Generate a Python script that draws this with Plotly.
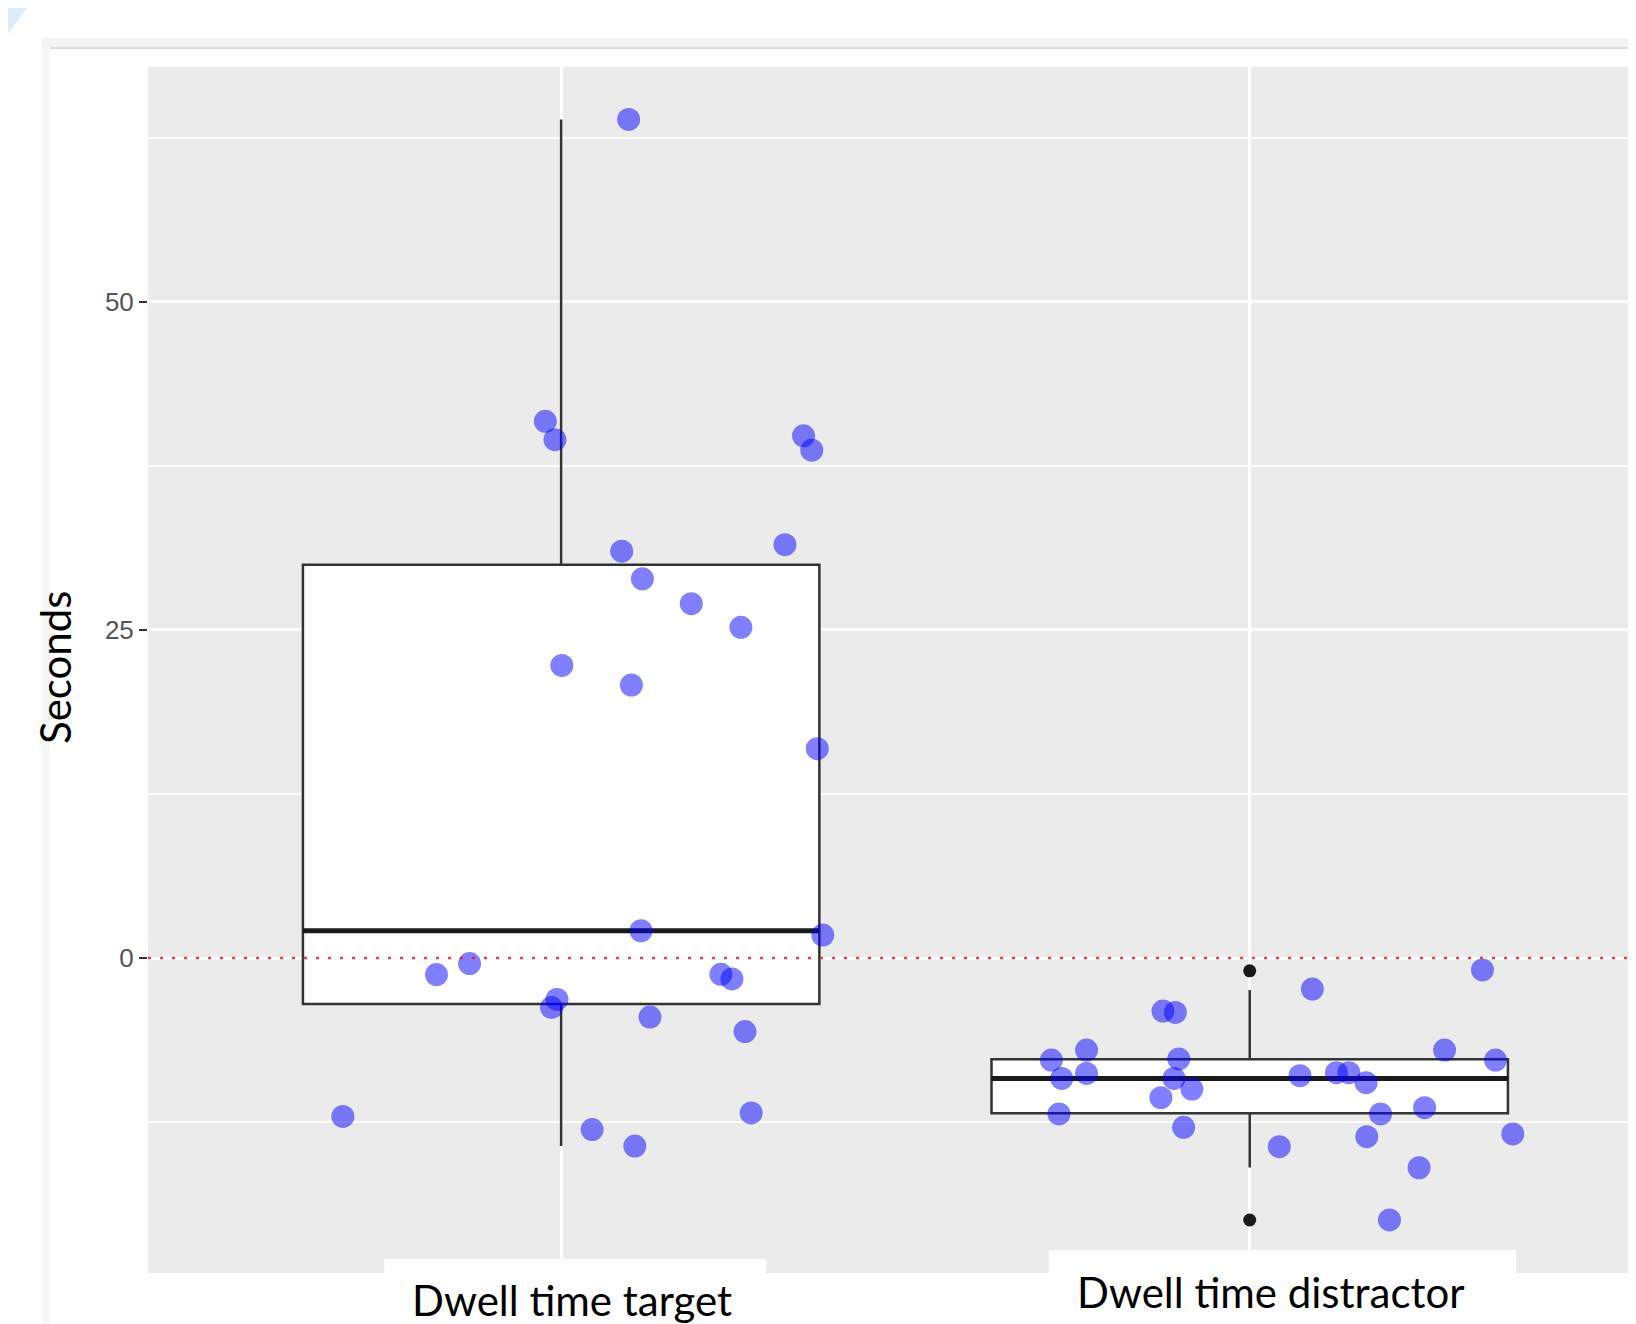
import plotly.graph_objects as go

# ---------------- data ----------------
categories = ["Dwell time target", "Dwell time distractor"]
cat_pos = [1, 2]

# box statistics
box_q1 = [-3.5, -11.83]
box_median = [2.08, -9.17]
box_q3 = [29.97, -7.72]
box_lower = [-14.33, -15.97]
box_upper = [63.9, -2.44]

# outliers (distractor only)
outlier_cat = [2, 2]
outlier_y = [-0.97, -19.96]

# jittered observations
target_dx = [0.098, -0.023, -0.009, 0.352, 0.364, 0.088, 0.325, 0.118, 0.189,
             0.261, 0.001, 0.102, 0.372, 0.116, 0.380, -0.181, -0.133, 0.232,
             0.248, -0.006, -0.014, 0.129, 0.267, -0.317, 0.276, 0.045, 0.107]
target_y = [63.9, 40.9, 39.5, 39.8, 38.7, 31.0, 31.5, 28.9, 27.0,
            25.2, 22.3, 20.8, 15.95, 2.08, 1.75, -1.26, -0.42, -1.24,
            -1.59, -3.15, -3.77, -4.5, -5.6, -12.07, -11.8, -13.07, -14.33]

distractor_dx = [-0.288, -0.273, -0.277, -0.237, -0.237, -0.126, -0.108, -0.103,
                 -0.110, -0.084, -0.129, -0.096, 0.091, 0.043, 0.073, 0.126,
                 0.144, 0.169, 0.190, 0.170, 0.203, 0.246, 0.254, 0.283,
                 0.338, 0.357, 0.382]
distractor_y = [-7.77, -9.17, -11.88, -7.01, -8.79, -4.04, -4.14, -7.69,
                -9.17, -9.98, -10.64, -12.9, -2.36, -14.37, -8.96, -8.74,
                -8.74, -9.5, -11.88, -13.61, -19.96, -15.98, -11.4, -7.01,
                -0.91, -7.77, -13.4]

y_ticks = [0, 25, 50]
y_title = "Seconds"
ref_line = 0

# ---------------- layout constants ----------------
OFF = 8                      # page body margin of the browser
W, H = 1636 - OFF, 1324 - OFF
ML, MT = 148 - OFF, 67 - OFF
MB = H - (1273 - OFF)
MR = 0
PW, PH = W - ML - MR, H - MT - MB
BOX_W = 0.75


def px(x):
    """screen x (reference pixels) -> paper x"""
    return (x - OFF - ML) / PW


def py(y):
    """screen y (reference pixels) -> paper y"""
    return (H - MB - (y - OFF)) / PH


fig = go.Figure()

fig.add_trace(go.Box(
    x=cat_pos, q1=box_q1, median=box_median, q3=box_q3,
    lowerfence=box_lower, upperfence=box_upper,
    width=BOX_W, whiskerwidth=0, boxpoints=False,
    fillcolor="white", line=dict(color="#333333", width=2.5),
    showlegend=False, hoverinfo="skip"))

# thicker median bar (ggplot style)
mx, my = [], []
for c, m in zip(cat_pos, box_median):
    mx += [c - BOX_W / 2, c + BOX_W / 2, None]
    my += [m, m, None]
fig.add_trace(go.Scatter(x=mx, y=my, mode="lines",
                         line=dict(color="#1a1a1a", width=5),
                         showlegend=False, hoverinfo="skip"))

fig.add_trace(go.Scatter(x=outlier_cat, y=outlier_y, mode="markers",
                         marker=dict(color="#1a1a1a", size=13),
                         showlegend=False))

fig.add_trace(go.Scatter(
    x=[cat_pos[0] + d for d in target_dx], y=target_y, mode="markers",
    marker=dict(color="rgba(0,0,255,0.5)", size=23, line=dict(width=0)),
    showlegend=False))
fig.add_trace(go.Scatter(
    x=[cat_pos[1] + d for d in distractor_dx], y=distractor_y, mode="markers",
    marker=dict(color="rgba(0,0,255,0.5)", size=23, line=dict(width=0)),
    showlegend=False))

shapes = [
    # red dotted reference line
    dict(type="line", xref="paper", yref="y", x0=0, x1=1, y0=ref_line, y1=ref_line,
         line=dict(color="rgba(235,30,30,0.85)", width=2.5, dash="3px,9px"), layer="above"),
    # frame decorations of the screenshot
    dict(type="rect", xref="paper", yref="paper", x0=px(42), x1=px(1636), y0=py(48), y1=py(38),
         fillcolor="#f4f4f4", line=dict(width=0), layer="below"),
    dict(type="line", xref="paper", yref="paper", x0=px(50), x1=px(1636), y0=py(48), y1=py(48),
         line=dict(color="#dcdcdc", width=2), layer="below"),
    dict(type="rect", xref="paper", yref="paper", x0=px(42), x1=px(50), y0=py(1324), y1=py(48),
         fillcolor="#f7f7f7", line=dict(width=0), layer="below"),
    dict(type="path", xref="paper", yref="paper",
         path=f"M {px(8)} {py(8)} L {px(27)} {py(8)} L {px(8)} {py(34)} Z",
         fillcolor="#dcecfb", line=dict(width=0), layer="below"),
    # white label boxes
    dict(type="rect", xref="x", yref="paper", x0=0.743, x1=1.298, y0=py(1324), y1=py(1259),
         fillcolor="white", line=dict(width=0), layer="above"),
    dict(type="rect", xref="x", yref="paper", x0=1.708, x1=2.387, y0=py(1317), y1=py(1250),
         fillcolor="white", line=dict(width=0), layer="above"),
]

annotations = [
    dict(text=categories[0], x=1.016, xref="x", y=py(1300), yref="paper",
         xanchor="center", yanchor="middle", showarrow=False,
         font=dict(family="Lato", size=42, color="black")),
    dict(text=categories[1], x=2.0305, xref="x", y=py(1292), yref="paper",
         xanchor="center", yanchor="middle", showarrow=False,
         font=dict(family="Lato", size=42, color="black")),
    dict(text=y_title, x=px(55), xref="paper", y=py(668), yref="paper",
         xanchor="center", yanchor="middle", textangle=-90, showarrow=False,
         font=dict(family="Lato", size=42, color="black")),
]

fig.update_layout(
    width=W, height=H,
    margin=dict(l=ML, r=MR, t=MT, b=MB, pad=0),
    paper_bgcolor="white", plot_bgcolor="#EBEBEB",
    shapes=shapes, annotations=annotations,
    showlegend=False,
    xaxis=dict(range=[0.4, 2.561], tickvals=cat_pos, showticklabels=False,
               showgrid=True, gridcolor="white", gridwidth=3, zeroline=False,
               ticks="", showline=False, automargin=False, fixedrange=True),
    yaxis=dict(range=[-24, 67.9], tickvals=y_ticks, showgrid=True,
               gridcolor="white", gridwidth=3, zeroline=False,
               ticks="outside", ticklen=8, tickwidth=2, tickcolor="#333333",
               tickfont=dict(family="Liberation Sans", size=26, color="#555555"),
               ticklabelstandoff=0,
               minor=dict(dtick=12.5, tick0=0, showgrid=True, gridcolor="white",
                          gridwidth=1.5, ticks=""),
               showline=False, automargin=False, fixedrange=True),
)

fig.write_html("out.html")
